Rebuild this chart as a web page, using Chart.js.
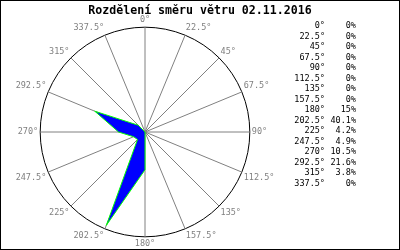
<!DOCTYPE html>
<html>
<head>
<meta charset="utf-8">
<script src="https://cdn.jsdelivr.net/npm/chart.js@4"></script>
<style>
  html, body { margin:0; padding:0; background:#fff; }
  #wrap { position:relative; width:400px; height:250px; box-sizing:border-box; border:1px solid #000; overflow:hidden; }
  #chart { position:absolute; left:0; top:0; }
  #title { position:absolute; left:0; top:2px; width:398px; text-align:center; font-family:"DejaVu Sans Mono", monospace; font-weight:bold; font-size:11.6px; line-height:14px; color:#000; }
  #table { position:absolute; left:288px; top:19px; font-family:"DejaVu Sans Mono", monospace; font-size:8.5px; line-height:10.5px; color:#000; }
  #table div { display:flex; }
  #table .d { width:36px; text-align:right; }
  #table .p { width:31px; text-align:right; }
</style>
</head>
<body>
<div id="wrap">
  <canvas id="chart" width="400" height="250"></canvas>
  <div id="title"></div>
  <div id="table"></div>
</div>
<script>

/* =====================================
   DATA
===================================== */

const directions = [0, 22.5, 45, 67.5, 90, 112.5, 135, 157.5, 180, 202.5, 225, 247.5, 270, 292.5, 315, 337.5];

const shares = [0, 0, 0, 0, 0, 0, 0, 0, 15, 40.1, 4.2, 4.9, 10.5, 21.6, 3.8, 0];

const chartTitle = "Rozdělení směru větru 02.11.2016";

const scaleMax = 41.6;

/* =====================================
   TITLE + TABLE
===================================== */

function buildTable(){

    document.getElementById("title").textContent = chartTitle;

    const table = document.getElementById("table");

    directions.forEach((d, i) => {

        const row = document.createElement("div");

        row.innerHTML =
            '<span class="d">' + d + '°</span>' +
            '<span class="p">' + shares[i] + '%</span>';

        table.appendChild(row);

    });

}

/* =====================================
   WIND ROSE
===================================== */

function initializeWindRose(){

    const ctx = document.getElementById("chart");

    new Chart(ctx, {

        type: "radar",

        data: {
            labels: directions.map(d => d + "°"),
            datasets: [{
                data: shares,
                backgroundColor: "#0000ff",
                borderColor: "#00ff00",
                borderWidth: 1,
                pointRadius: 0,
                tension: 0,
                fill: true
            }]
        },

        options: {
            responsive: false,
            animation: false,
            layout: {
                padding: { left: 15, right: 125, top: 14, bottom: 2 }
            },
            plugins: {
                legend: { display: false },
                tooltip: { enabled: false },
                title: { display: false }
            },
            scales: {
                r: {
                    min: 0,
                    max: scaleMax,
                    ticks: { display: false, stepSize: scaleMax },
                    grid: { color: "#000", circular: true, lineWidth: 1 },
                    angleLines: { color: "#808080", lineWidth: 1 },
                    pointLabels: {
                        color: "#808080",
                        padding: 2,
                        font: { family: "DejaVu Sans Mono", size: 8.5 }
                    }
                }
            }
        }

    });

}

buildTable();
initializeWindRose();

</script>
</body>
</html>
